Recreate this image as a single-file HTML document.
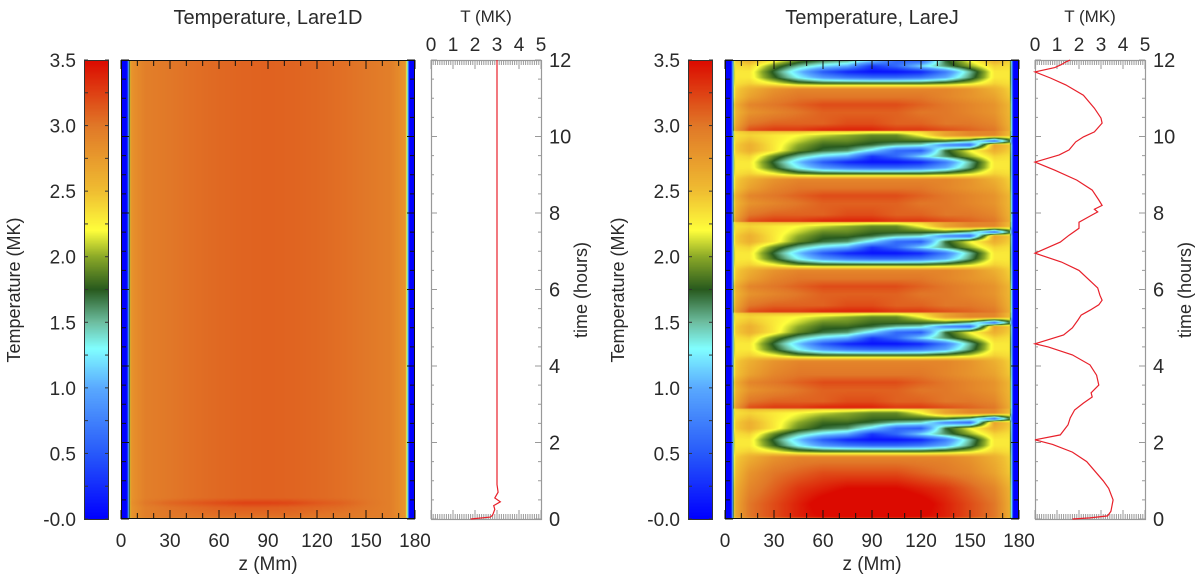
<!DOCTYPE html>
<html><head><meta charset="utf-8">
<style>
html,body{margin:0;padding:0;background:#fff;}
#root{position:relative;width:1200px;height:575px;overflow:hidden;background:#fff;font-family:"Liberation Sans",sans-serif;}
canvas{position:absolute;display:block;}
svg{position:absolute;left:0;top:0;}
text{font-family:"Liberation Sans",sans-serif;fill:#2a2a2a;}
</style></head>
<body>
<div id="root">
<canvas id="cbL" style="left:84px;top:60px" width="25" height="459"></canvas>
<canvas id="hmL" style="left:121px;top:60px" width="294" height="459"></canvas>
<canvas id="cbR" style="left:688px;top:60px" width="25" height="459"></canvas>
<canvas id="hmR" style="left:725px;top:60px" width="294" height="459"></canvas>
<svg id="ov" width="1200" height="575"></svg>
</div>
<script>
// ---------- data ----------
const zCols = [0,15,30,45,60,75,90,105,120,135,150,165,180];
const chromoEdges = [3.8, 176.5];
// Lare1D grid
const leftTimes = [0, 0.04, 0.12, 0.3, 0.42, 0.55, 0.8, 12];
const leftRows = [
 [2.3,2.4,2.4,2.4,2.4,2.4,2.4,2.4,2.4,2.4,2.4,2.4,2.3],
 [2.7,2.95,3.0,3.0,3.02,3.02,3.02,3.02,3.0,3.0,2.98,2.95,2.7],
 [2.7,2.95,3.0,3.02,3.05,3.05,3.05,3.05,3.02,3.0,2.98,2.95,2.7],
 [2.7,2.95,3.02,3.06,3.1,3.12,3.12,3.1,3.08,3.05,3.0,2.95,2.7],
 [2.7,3.0,3.08,3.14,3.2,3.25,3.25,3.22,3.15,3.1,3.02,2.95,2.7],
 [2.7,2.95,3.0,3.04,3.07,3.09,3.1,3.09,3.07,3.04,3.0,2.95,2.7],
 [2.7,2.95,3.0,3.04,3.07,3.09,3.1,3.09,3.07,3.04,3.0,2.95,2.7],
 [2.7,2.95,3.0,3.04,3.07,3.09,3.1,3.09,3.07,3.04,3.0,2.95,2.7]
];
// LareJ grid: initial phase + repeated cycles around apex minima
const initTimes = [0, 0.05, 0.15, 0.4, 0.8, 1.2];
const initRows = [
 [2.2,2.5,2.6,2.7,2.8,2.8,2.8,2.8,2.8,2.7,2.6,2.5,2.2],
 [2.4,3.0,3.2,3.4,3.5,3.6,3.6,3.6,3.5,3.4,3.2,3.0,2.4],
 [2.4,3.0,3.2,3.4,3.55,3.65,3.7,3.65,3.55,3.4,3.2,3.0,2.4],
 [2.4,3.0,3.2,3.4,3.6,3.75,3.75,3.75,3.6,3.4,3.2,3.0,2.4],
 [2.4,2.9,3.1,3.3,3.4,3.5,3.5,3.5,3.4,3.3,3.1,2.9,2.4],
 [2.3,2.8,3.0,3.1,3.2,3.2,3.2,3.2,3.1,3.0,2.9,2.7,2.3]
];
const cycleMinima = [2.07, 4.58, 6.95, 9.33, 11.69];
const cycleOffsets = [-0.45,-0.3,-0.15,0,0.15,0.3,0.45,0.55,0.7,0.8,0.83,1.0,1.3,1.5,1.7];
const cycleRows = [
 [2.3,2.6,2.8,2.9,2.9,2.9,2.9,2.9,2.9,2.9,2.8,2.6,2.3],
 [2.3,2.4,2.2,1.9,1.8,1.8,1.8,1.8,1.8,1.9,2.1,2.4,2.3],
 [2.3,2.3,1.8,1.3,0.9,0.7,0.6,0.6,0.7,1.0,1.6,2.3,2.3],
 [2.3,2.3,1.7,1.1,0.5,0.2,0.1,0.1,0.2,0.7,1.5,2.3,2.3],
 [2.3,2.4,1.9,1.5,1.2,1.0,0.3,0.6,1.2,1.6,2.0,2.4,2.3],
 [2.3,2.6,2.3,1.9,1.7,1.6,1.2,0.6,0.5,1.7,2.2,2.6,2.3],
 [2.3,2.6,2.3,2.0,1.8,1.8,1.7,1.5,1.4,0.8,0.6,2.7,2.3],
 [2.3,2.5,2.3,2.1,1.9,1.9,1.8,1.8,1.8,1.8,1.5,0.6,2.3],
 [2.3,2.4,2.3,2.2,2.1,2.0,1.9,1.9,2.2,2.7,2.9,2.9,2.3],
 [2.3,2.5,2.5,2.5,2.4,2.4,2.3,2.3,2.4,2.7,2.9,2.9,2.3],
 [2.4,3.2,3.3,3.3,3.4,3.4,3.4,3.3,3.3,3.2,3.1,3.0,2.4],
 [2.4,3.0,3.1,3.1,3.1,3.2,3.2,3.1,3.1,3.0,3.0,2.9,2.4],
 [2.4,2.8,2.9,3.0,3.1,3.1,3.1,3.1,3.0,3.0,2.9,2.8,2.4],
 [2.4,2.9,3.0,3.1,3.2,3.2,3.2,3.2,3.1,3.0,2.9,2.8,2.4],
 [2.3,2.7,2.9,3.0,3.0,3.0,3.0,3.0,3.0,2.9,2.8,2.7,2.3]
];
// apex temperature time series
const leftCurveT = [0,0.05,0.1,0.25,0.35,0.45,0.55,0.7,0.9,1.5,12];
const leftCurveV = [1.8,2.7,2.8,2.9,2.85,3.15,2.9,3.05,3.0,3.0,3.0];
const rightCurveT = [0,0.03,0.08,0.2,0.5,0.8,1.0,1.5,1.75,1.95,2.07,
 2.2,2.46,2.64,2.85,3.03,3.19,3.3,3.5,3.76,4.03,4.29,4.5,4.58,
 4.81,5.0,5.2,5.33,5.46,5.6,5.72,5.85,6.04,6.5,6.72,6.95,
 7.24,7.42,7.6,7.76,7.95,8.03,8.1,8.2,8.34,8.6,8.86,9.12,9.33,
 9.52,9.65,9.86,9.99,10.12,10.22,10.35,10.48,10.74,11.08,11.35,11.53,11.69,11.8,11.88,11.95,12];
const rightCurveV = [1.7,2.5,3.3,3.45,3.55,3.35,3.1,2.35,1.7,0.8,0,
 1.15,1.5,1.6,1.8,2.2,2.6,2.55,2.9,2.8,2.5,1.7,0.6,0,
 1.3,1.7,1.95,2.1,2.5,2.9,3.05,2.95,2.85,2.0,1.2,0,
 1.15,1.55,2.0,2.0,2.6,2.85,2.7,3.05,2.9,2.6,1.9,0.9,0,
 1.1,1.55,1.85,2.2,2.7,2.85,3.05,3.0,2.7,2.2,1.4,0.7,0,0.9,1.2,1.4,1.6];
const cbTicks = ["-0.0","0.5","1.0","1.5","2.0","2.5","3.0","3.5"];
const zTicks = [0,30,60,90,120,150,180];
const tTicks = [0,2,4,6,8,10,12];
const TTicks = [0,1,2,3,4,5];

// ---------- build LareJ rows ----------
const rightTimes = initTimes.slice();
const rightRows = initRows.slice();
cycleMinima.forEach(m => {
  cycleOffsets.forEach((o, k) => {
    const t = m + o;
    if (t <= 12 && t > rightTimes[rightTimes.length-1]) { rightTimes.push(t); rightRows.push(cycleRows[k]); }
  });
});
if (rightTimes[rightTimes.length-1] < 12) { rightTimes.push(12); rightRows.push(rightRows[rightRows.length-1]); }

// ---------- colormap ----------
const cmV = [0,0.5,1.0,1.3,1.5,1.75,2.0,2.2,2.5,3.0,3.5];
const cmC = [[0,0,255],[40,90,250],[90,170,255],[130,255,255],[110,190,160],[40,90,30],[140,170,40],[255,255,60],[240,190,50],[225,120,40],[220,10,0]];
function cmap(v){
  if (v<=cmV[0]) return cmC[0];
  for (let i=0;i<cmV.length-1;i++){
    if (v<=cmV[i+1]){ const f=(v-cmV[i])/(cmV[i+1]-cmV[i]); return [0,1,2].map(c=>cmC[i][c]+(cmC[i+1][c]-cmC[i][c])*f); }
  }
  return cmC[cmC.length-1];
}
function findIdx(arr, x){
  for (let i=0;i<arr.length-1;i++) if (x<=arr[i+1]) return i;
  return arr.length-2;
}
function sample(times, rows, t, z){
  const i=findIdx(times,t), j=findIdx(zCols,z);
  const ft=Math.max(0,Math.min(1,(t-times[i])/(times[i+1]-times[i])));
  const fz=Math.max(0,Math.min(1,(z-zCols[j])/(zCols[j+1]-zCols[j])));
  const a=rows[i][j]*(1-fz)+rows[i][j+1]*fz;
  const b=rows[i+1][j]*(1-fz)+rows[i+1][j+1]*fz;
  return a*(1-ft)+b*ft;
}
const W=294,H=459;
function drawHeat(id, times, rows){
  const cv=document.getElementById(id), ctx=cv.getContext('2d');
  const img=ctx.createImageData(W,H);
  const R=2.2;
  for (let py=0;py<H;py++){
    const t=(H-0.5-py)/H*12;
    for (let px=0;px<W;px++){
      const z=(px+0.5)/W*180;
      let v=sample(times,rows,t,z);
      if (z<chromoEdges[0] || z>chromoEdges[1]) v=0;
      else if (z<chromoEdges[0]+R) v=v*(z-chromoEdges[0])/R;
      else if (z>chromoEdges[1]-R) v=v*(chromoEdges[1]-z)/R;
      const c=cmap(v), k=(py*W+px)*4;
      img.data[k]=c[0];img.data[k+1]=c[1];img.data[k+2]=c[2];img.data[k+3]=255;
    }
  }
  ctx.putImageData(img,0,0);
}
function drawCB(id){
  const cv=document.getElementById(id), ctx=cv.getContext('2d');
  for (let py=0;py<H;py++){
    const c=cmap((H-0.5-py)/H*3.5);
    ctx.fillStyle=`rgb(${c[0]|0},${c[1]|0},${c[2]|0})`;
    ctx.fillRect(0,py,25,1);
  }
}
drawHeat('hmL', leftTimes, leftRows);
drawHeat('hmR', rightTimes, rightRows);
drawCB('cbL'); drawCB('cbR');

// ---------- overlay ----------
const NS='http://www.w3.org/2000/svg';
const ov=document.getElementById('ov');
function mk(tag, attrs, txt){
  const e=document.createElementNS(NS,tag);
  for (const k in attrs) e.setAttribute(k, attrs[k]);
  if (txt!==undefined) e.textContent=txt;
  ov.appendChild(e); return e;
}
const Y0=60, Y1=519;
const yT = t => Y1 - t/12*(Y1-Y0);
function panel(dx, title, cTimes, cVals, tag){
  const hx=121+dx, sx=431+dx, cx=84+dx;
  const xz = z => hx + z/180*W;
  const xT = v => sx + v/5*110;
  const yC = v => Y1 - v/3.5*(Y1-Y0);
  let e;
  e=mk('text',{x:hx+W/2,y:24,'text-anchor':'middle','font-size':20},title);
  
  
  e=mk('rect',{x:cx+0.5,y:Y0+0.5,width:24,height:Y1-Y0,fill:'none',stroke:'#333','stroke-width':1});
  
  
  for (let v=0; v<=3.5001; v+=0.25){
    const y=yC(v);
    mk('line',{x1:cx,x2:cx+4,y1:y,y2:y,stroke:'#333'});
    mk('line',{x1:cx+21,x2:cx+25,y1:y,y2:y,stroke:'#333'});
  }
  cbTicks.forEach((s,i)=>{
    e=mk('text',{x:cx-8,y:yC(i*0.5)+7,'text-anchor':'end','font-size':19},s);
    
    
  });
  e=mk('text',{x:0,y:0,'text-anchor':'middle','font-size':18,transform:`translate(${cx-64},290) rotate(-90)`},'Temperature (MK)');
  
  
  e=mk('rect',{x:hx+0.5,y:Y0+0.5,width:W-1,height:Y1-Y0-1,fill:'none',stroke:'#111','stroke-width':1});
  
  
  for (let z=0; z<=180; z+=10){
    const x=xz(z), L=(z%30===0)?9:6;
    mk('line',{x1:x,x2:x,y1:Y1,y2:Y1-L,stroke:'#111'});
    mk('line',{x1:x,x2:x,y1:Y0,y2:Y0+L,stroke:'#111'});
  }
  for (let t=0; t<=12; t+=0.5){
    const y=yT(t), L=(t%2===0)?8:5;
    mk('line',{x1:hx,x2:hx+L,y1:y,y2:y,stroke:'#111'});
    mk('line',{x1:hx+W-L,x2:hx+W,y1:y,y2:y,stroke:'#111'});
  }
  zTicks.forEach(z=>{
    e=mk('text',{x:xz(z),y:547,'text-anchor':'middle','font-size':19},String(z));
    
    
  });
  e=mk('text',{x:hx+W/2,y:570,'text-anchor':'middle','font-size':19},'z (Mm)');
  
  
  e=mk('rect',{x:sx+0.5,y:Y0+0.5,width:110,height:Y1-Y0,fill:'#fff',stroke:'#999','stroke-width':1.2});
  
  
  for (let v=0; v<=5.0001; v+=0.1){
    const x=xT(v), major=Math.abs(v-Math.round(v))<1e-6, L=major?9:5;
    mk('line',{x1:x,x2:x,y1:Y0,y2:Y0+L,stroke:'#999'});
    mk('line',{x1:x,x2:x,y1:Y1,y2:Y1-L,stroke:'#999'});
  }
  for (let t=0; t<=12; t+=0.5){
    const y=yT(t), L=(t%2===0)?6:3;
    mk('line',{x1:sx,x2:sx+L,y1:y,y2:y,stroke:'#999'});
    mk('line',{x1:sx+110-L,x2:sx+110,y1:y,y2:y,stroke:'#999'});
  }
  TTicks.forEach(v=>{
    e=mk('text',{x:xT(v),y:51,'text-anchor':'middle','font-size':19},String(v));
    
    
  });
  e=mk('text',{x:sx+55,y:22,'text-anchor':'middle','font-size':17},'T (MK)');
  
  
  tTicks.forEach(t=>{
    e=mk('text',{x:sx+118,y:yT(t)+7,'text-anchor':'start','font-size':20},String(t));
    
    
  });
  e=mk('text',{x:0,y:0,'text-anchor':'middle','font-size':18,transform:`translate(${sx+156},290) rotate(-90)`},'time (hours)');
  
  
  const pts=cTimes.map((t,i)=>xT(cVals[i]).toFixed(1)+','+yT(t).toFixed(1)).join(' ');
  e=mk('polyline',{points:pts,fill:'none',stroke:'#e8202a','stroke-width':1.2});
  
  
}
panel(0, 'Temperature, Lare1D', leftCurveT, leftCurveV, 'lare1d');
panel(604, 'Temperature, LareJ', rightCurveT, rightCurveV, 'larej');
</script>
</body></html>
